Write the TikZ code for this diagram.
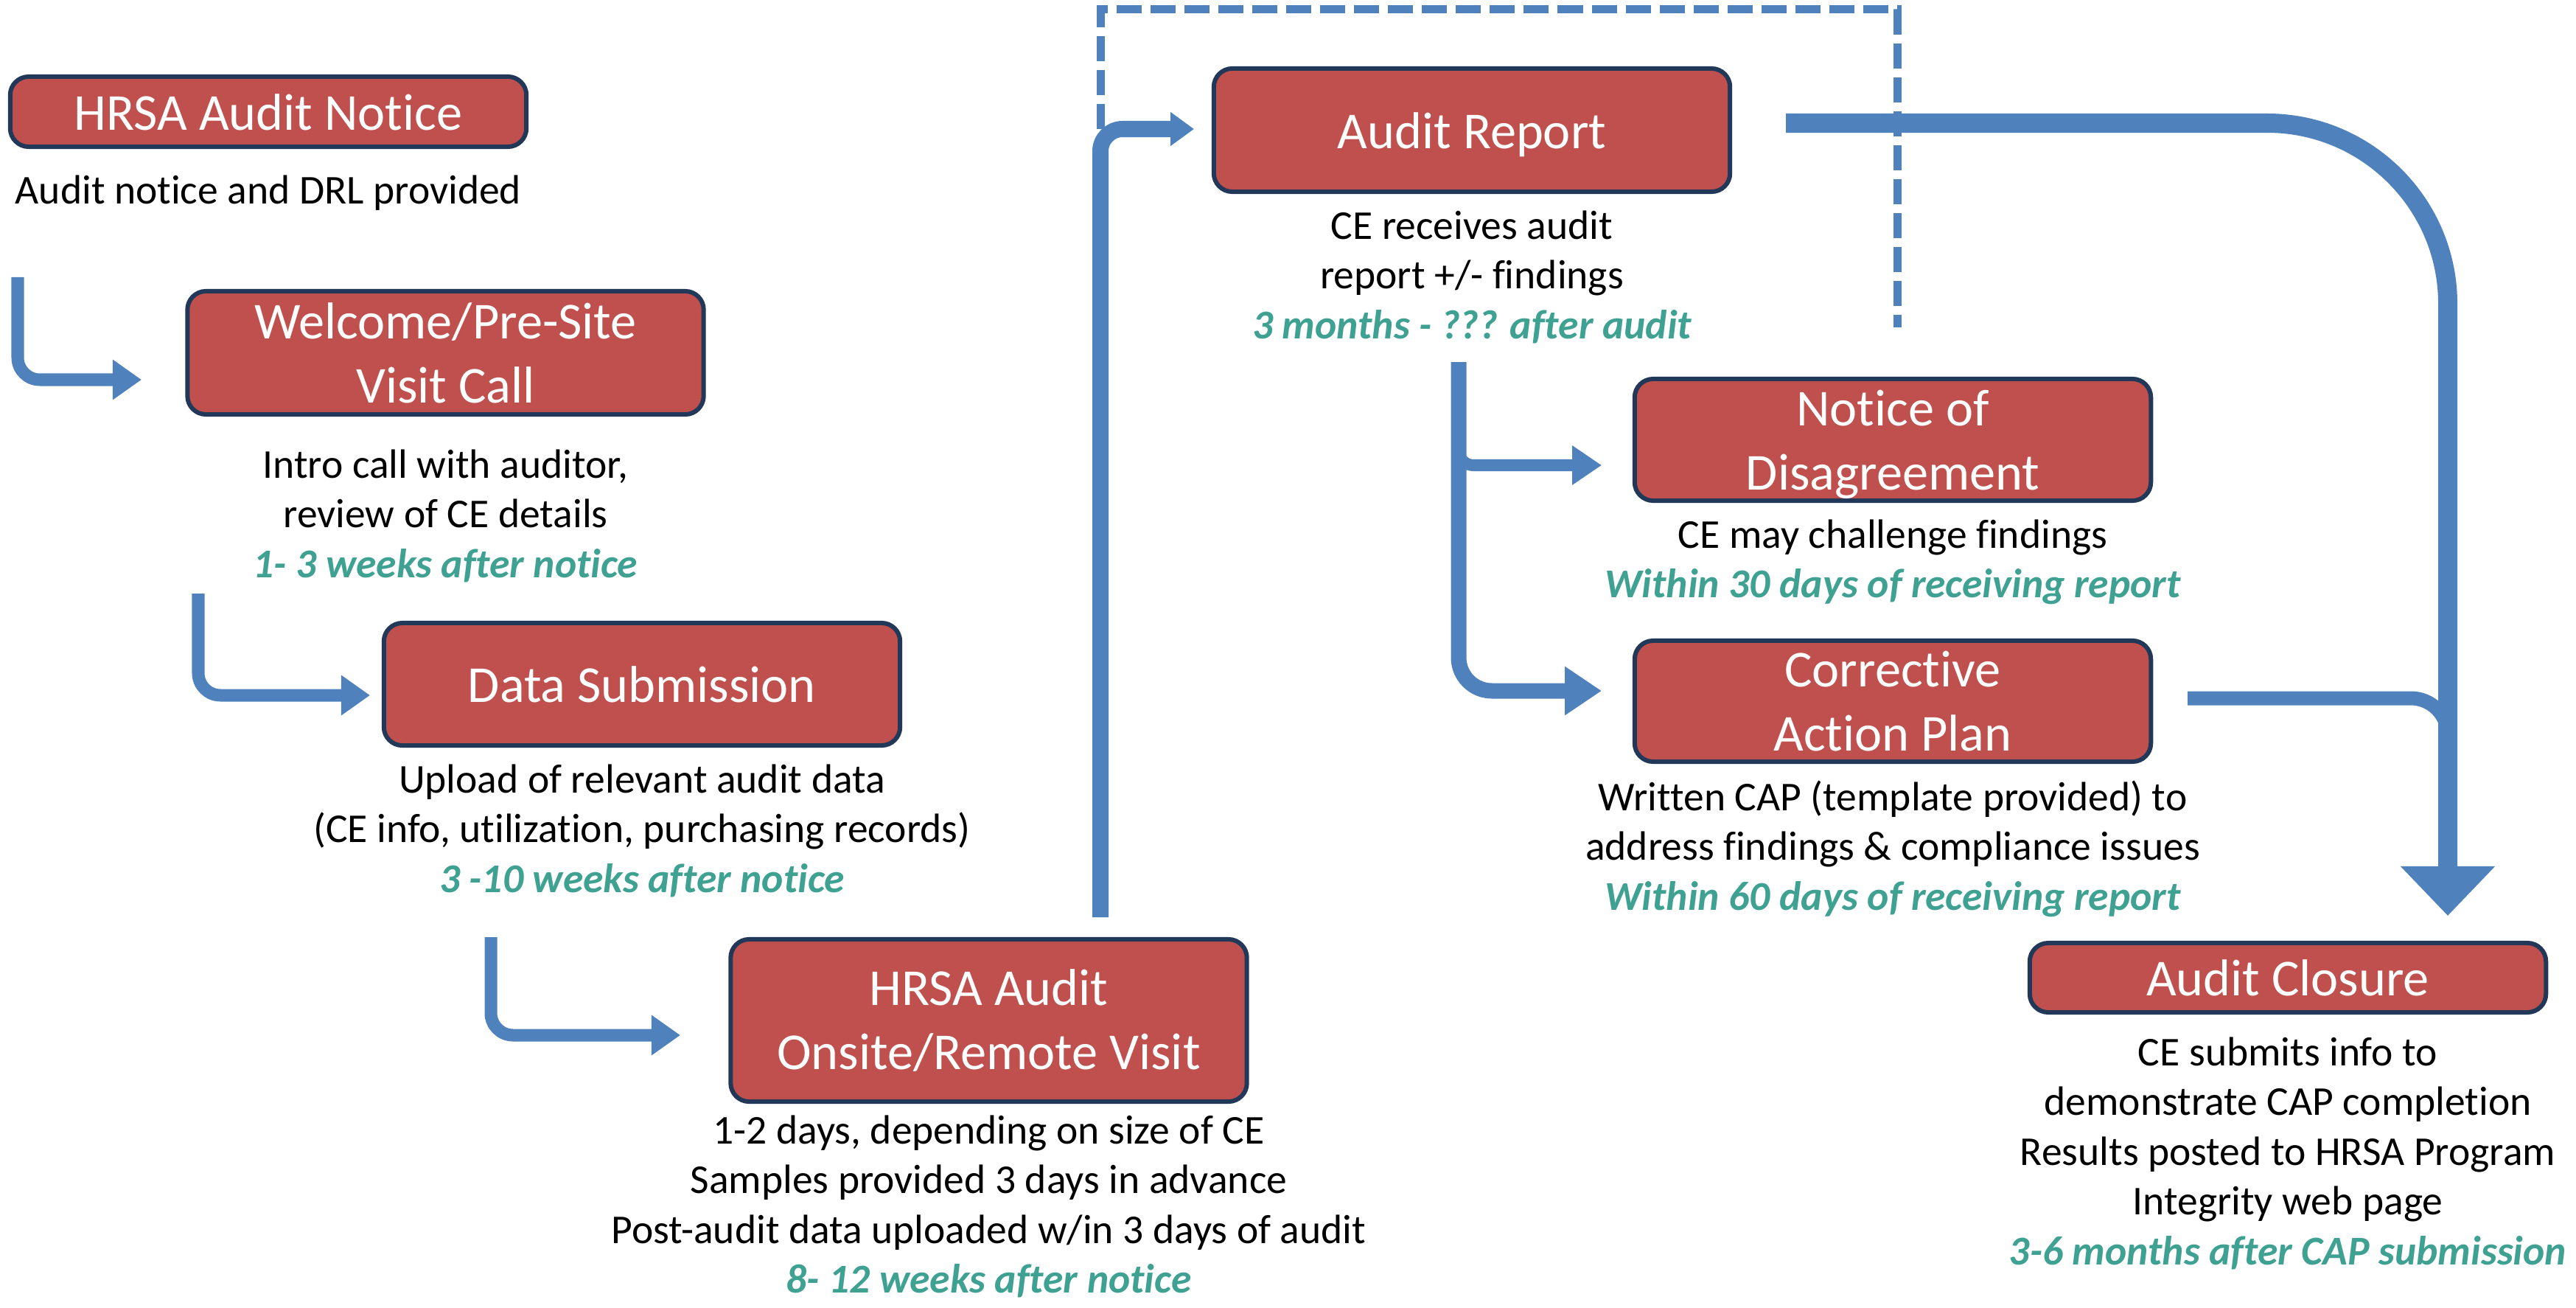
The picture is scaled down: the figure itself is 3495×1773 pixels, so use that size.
\documentclass[tikz,border=0pt]{standalone}
\usepackage{fontspec}
\setmainfont{Carlito}[Ligatures={NoCommon}]
\usetikzlibrary{arrows.meta}

\definecolor{boxred}{RGB}{192,80,77}
\definecolor{boxline}{RGB}{33,56,88}
\definecolor{flowblue}{RGB}{79,129,189}
\definecolor{timeteal}{RGB}{63,161,145}

\newcommand{\stagefont}{\fontsize{20}{24.7}\selectfont}
\newcommand{\notesfont}{\fontsize{15.8}{19.2}\selectfont}
\newcommand{\when}[1]{{\color{timeteal}\bfseries\itshape #1}}

\tikzset{
  stage/.style={draw=boxline, line width=0.6mm, fill=boxred, rounded corners=2.5mm,
    text=white, align=center, font=\stagefont, inner sep=0pt, minimum width=7cm},
  oneline/.style={text height=19pt, text depth=5pt},
  notes/.style={align=center, font=\notesfont, anchor=north, inner sep=0pt},
  flow/.style={draw=flowblue, line width=1.7mm, rounded corners=3mm,
    -{Triangle[width=5.2mm,length=3.9mm]}},
}

\begin{document}
\begin{tikzpicture}[x=0.01cm,y=-0.01cm]
  \useasboundingbox (0,0) rectangle (3495,1773);

  % stages
  \node[stage,oneline,minimum height=0.95cm] (notice) at (364,151.5) {HRSA Audit Notice};
  \node[stage,minimum height=1.67cm] (welcome) at (604.5,478.5) {Welcome/Pre-Site\\Visit Call};
  \node[stage,oneline,minimum height=1.66cm] (data) at (871,928) {Data Submission};
  \node[stage,minimum height=2.2cm] (onsite) at (1341.5,1384) {HRSA Audit\\Onsite/Remote Visit};
  \node[stage,oneline,minimum height=1.67cm] (report) at (1997,176.5) {Audit Report};
  \node[stage,minimum height=1.65cm] (disagree) at (2568,596.5) {Notice of\\\raisebox{0pt}[\height][0pt]{Disagreement}};
  \node[stage,minimum height=1.64cm] (cap) at (2568,951) {Corrective\\Action Plan};
  \node[stage,oneline,minimum height=0.94cm] (closure) at (3104,1326) {Audit Closure};

  % notes
  \node[notes] (notice-txt) at (364,237) {Audit notice and DRL provided};
  \node[notes] (welcome-txt) at (604.5,609) {Intro call with auditor,\\review of CE details\\\when{1- 3 weeks after notice}};
  \node[notes] (data-txt) at (871,1036) {Upload of relevant audit data\\(CE info, utilization, purchasing records)\\\when{3 -10 weeks after notice}};
  \node[notes] (onsite-txt) at (1341.5,1512) {1-2 days, depending on size of CE\\Samples provided 3 days in advance\\Post-audit data uploaded w/in 3 days of audit\\\when{8- 12 weeks after notice}};
  \node[notes] (report-txt) at (1997,285) {CE receives audit\\report +/- findings\\\when{3 months - ??? after audit}};
  \node[notes] (disagree-txt) at (2568,704) {CE may challenge findings\\\when{Within 30 days of receiving report}};
  \node[notes] (cap-txt) at (2568,1058) {Written CAP (template provided) to\\address findings \& compliance issues\\\when{Within 60 days of receiving report}};
  \node[notes] (closure-txt) at (3104,1406) {CE submits info to\\demonstrate CAP completion\\Results posted to HRSA Program\\Integrity web page\\\when{3-6 months after CAP submission}};

  % arrow ends
  \coordinate (a1-from) at (24,376);
  \coordinate (a1-to) at (192,515);
  \coordinate (a2-from) at (269,805);
  \coordinate (a2-to) at (502,943);
  \coordinate (a3-from) at (666,1271);
  \coordinate (a3-to) at (923,1404);
  \coordinate (a4-from) at (1493,1244);
  \coordinate (a4-to) at (1620,175);
  \coordinate (loop-from) at (1493,175);
  \coordinate (loop-nw) at (1493,13);
  \coordinate (loop-ne) at (2574,13);
  \coordinate (loop-to) at (2574,444);
  \coordinate (fork-top) at (1979,491);
  \coordinate (fork-mid) at (1979,595);
  \coordinate (fork-nod) at (2173,631);
  \coordinate (fork-cap) at (2173,937);
  \coordinate (cap-out) at (2968,947);
  \coordinate (cap-join) at (3321,1100);
  \coordinate (close-from) at (2423,167);
  \coordinate (close-to) at (3321,1242);

  \draw[flow] (a1-from) |- (a1-to);
  \draw[flow] (a2-from) |- (a2-to);
  \draw[flow] (a3-from) |- (a3-to);
  \draw[flow,line width=2.2mm,-{Triangle[width=4.4mm,length=3.2mm]}] (a4-from) |- (a4-to);

  \draw[flow,line width=2.1mm,rounded corners=4.5mm,-{Triangle[width=6.3mm,length=5mm]}] (fork-top) |- (fork-cap);
  \draw[flow,line width=1.6mm,rounded corners=2mm,-{Triangle[width=5.1mm,length=4mm]}] (fork-mid) |- (fork-nod);

  \draw[flowblue,line width=1.9mm,rounded corners=5mm] (cap-out) -| (cap-join);
  \draw[flow,line width=2.6mm,rounded corners=24.5mm,-{Triangle[width=12.4mm,length=6.7mm]}] (close-from) -| (close-to);

  \draw[flowblue,line width=1.1mm,dash pattern=on 3.4mm off 1.2mm] (loop-from) -- (loop-nw) -- (loop-ne) -- (loop-to);
\end{tikzpicture}
\end{document}
